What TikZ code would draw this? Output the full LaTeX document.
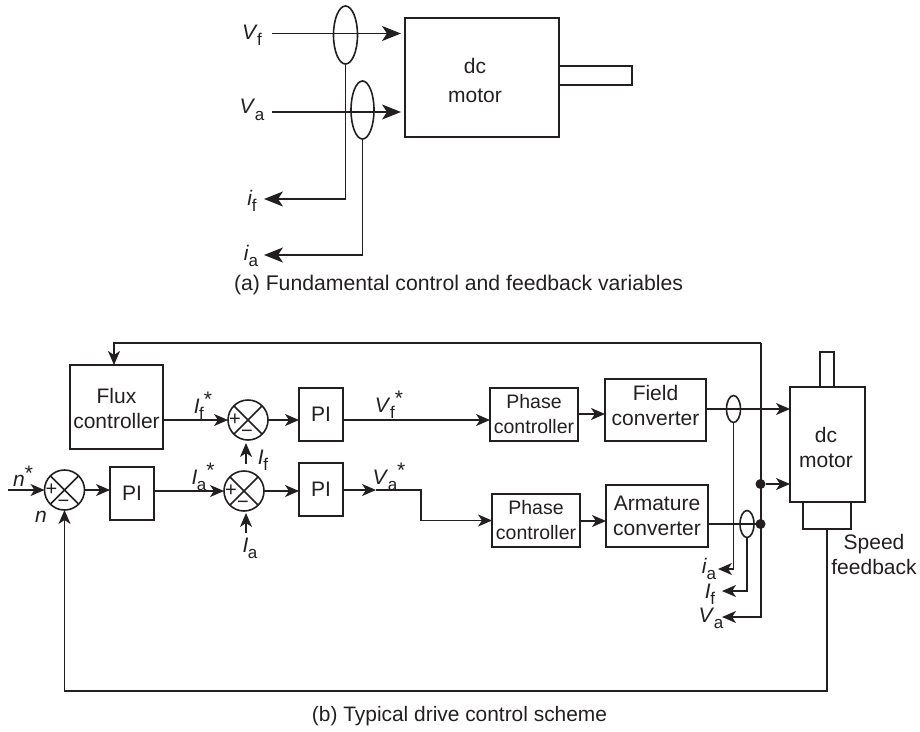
\documentclass[tikz,border=0pt]{standalone}
\usepackage{fontspec}
\setmainfont{Liberation Sans}
\usetikzlibrary{arrows.meta,shapes.geometric,calc}
\definecolor{ink}{HTML}{231F20}
\newcommand\lbl[2]{\textit{#1}\kern-0.5pt\raisebox{-0.3em}{\fontsize{17}{17}\selectfont #2}}
\newcommand\lbs[2]{\textit{#1}\kern-0.5pt\raisebox{-0.3em}{\fontsize{17}{17}\selectfont #2}\raisebox{0.3em}{*}}
\newcommand\pht[1]{{\fontsize{19.5}{23}\selectfont #1}}
\newcommand\blk[7][]{\node[blk,minimum width={(#5-#3)*1pt},minimum height={(#6-#4)*1pt},#1] (#2) at ({(#3+#5)/2},{(#4+#6)/2}) {#7};}
\newcommand\sumj[3]{\node[sumc] (#1) at (#2,#3) {};
  \draw[wire] (#1.45)--(#1.225) (#1.135)--(#1.315);
  \node[sgn] (#1p) at ($(#1.center)+(-13,0)$) {+};
  \node[sgn] (#1m) at ($(#1.center)+(-1,14)$) {−};}
\tikzset{
  x=1pt,y=-1pt,
  every node/.style={text=ink,font=\fontsize{21}{25}\selectfont,align=center},
  blk/.style={draw=ink,line width=1.6pt,inner sep=0pt,outer sep=0pt},
  wire/.style={draw=ink,line width=1.6pt},
  arr/.style={wire,-{Stealth[length=14pt,width=12pt,inset=4pt]}},
  arrb/.style={wire,-{Stealth[length=19pt,width=15pt,inset=5pt]}},
  sumc/.style={circle,draw=ink,line width=1.6pt,minimum size=40pt,inner sep=0pt,outer sep=0pt},
  sgn/.style={inner sep=0pt,font=\fontsize{20}{20}\selectfont},
  ell/.style={ellipse,draw=ink,line width=1.6pt,inner sep=0pt,outer sep=0pt},
  dot/.style={circle,fill=ink,minimum size=10pt,inner sep=0pt,outer sep=0pt},
  var/.style={inner sep=0pt},
  captxt/.style={inner sep=0pt,font=\fontsize{21.2}{24}\selectfont},
}
\begin{document}
\begin{tikzpicture}
\useasboundingbox (0,0) rectangle (920,731);
% ---------- (a)
\blk{ma}{405}{18}{559}{137}{}
\node[font=\fontsize{21}{29}\selectfont] (matxt) at (475,80) {dc\\motor};
\blk{sa}{559}{66}{632}{85}{}
\node[ell,minimum width=24pt,minimum height=58pt] (ef) at (345.5,35) {};
\node[ell,minimum width=23pt,minimum height=58pt] (ea) at (362.5,110) {};
\node[var] (lvf) at (252,35) {\lbl{V}{f}};
\node[var] (lva) at (252,110) {\lbl{V}{a}};
\node[var] (lif) at (252,201) {\lbl{i}{f}};
\node[var] (lia) at (251,256) {\lbl{i}{a}};
\coordinate (vfs) at (272,33.5);
\coordinate (vas) at (272,112);
\coordinate (vfe) at (401,33.5);
\coordinate (vae) at (401,112);
\coordinate (ife) at (264,199);
\coordinate (iae) at (264,255);
\draw[arrb] (vfs) -- (vfe);
\draw[arrb] (vas) -- (vae);
\draw[arrb] (ef.south) |- (ife);
\draw[arrb] (ea.south) |- (iae);
\node[captxt] (capa) at (458.5,285) {(a) Fundamental control and feedback variables};
% ---------- (b) blocks
\blk{flux}{70}{365}{163}{449}{\rule{0pt}{19pt}Flux\\controller}
\blk{pif}{299}{388}{343}{441}{PI}
\blk{pin}{110}{467}{154}{520}{PI}
\blk{pia}{299}{463}{343}{516}{PI}
\blk{ph1}{490}{388}{578}{441}{\pht{Phase}\\\pht{controller}}
\blk[text depth=10pt]{fc}{605}{379}{706}{441}{Field\\converter}
\blk{ph2}{492}{494}{580}{547}{\pht{Phase}\\\pht{controller}}
\blk{ac}{606}{485}{708}{547}{Armature\\converter}
\blk{mb}{790}{387}{865}{502}{}
\node (mbtxt) at (826,447) {dc\\motor};
\blk{shb}{820}{352}{834}{387}{}
\blk{tacho}{803}{502}{851}{529}{}
\sumj{sf}{248}{420}
\sumj{sa2}{244}{491}
\sumj{sn}{64.5}{490}
\node[ell,minimum width=14pt,minimum height=27pt] (e1) at (733.5,409) {};
\node[ell,minimum width=14pt,minimum height=27pt] (e2) at (747,524) {};
\node[dot] (j1) at (760.5,484) {};
\node[dot] (j2) at (760.5,524) {};
% ---------- (b) labels
\node[var] (lifs) at (203,406) {\lbs{I}{f}};
\node[var] (lias) at (203,477) {\lbs{I}{a}};
\node[var] (lvfs) at (389,405) {\lbs{V}{f}};
\node[var] (lvas) at (389,477) {\lbs{V}{a}};
\node[var] (lns) at (23,476) {\textit{n}\raisebox{0.3em}{*}};
\node[var] (ln) at (41,517) {\textit{n}};
\node[var] (lif2) at (263,460) {\lbl{I}{f}};
\node[var] (lia2) at (250,548) {\lbl{I}{a}};
\node[var] (lia3) at (709,569) {\lbl{i}{a}};
\node[var] (lif3) at (710,594) {\lbl{I}{f}};
\node[var] (lva3) at (711,618) {\lbl{V}{a}};
\node (spd) at (874,554) {Speed\\feedback};
% ---------- (b) free ends
\coordinate (ns) at (8,490);
\coordinate (topc) at (761,343);
\coordinate (fluxin) at (114,365);
\coordinate (fb) at (64.5,691);
\coordinate (ift) at (246,464);
\coordinate (iat) at (246,533);
\coordinate (ifb) at (246,443);
\coordinate (iab) at (246,513);
\coordinate (vamid) at (376,490);
\coordinate (vaturn) at (421,490);
\coordinate (iae3) at (718,569);
\coordinate (ife3) at (722,591);
\coordinate (vae3) at (722,617);
\coordinate (vcorner) at (761,617);
% ---------- (b) connectors
\draw[arr] (topc) -- (topc -| fluxin) -- (fluxin);
\draw[arr] (topc) -- (vcorner) -- (vae3);
\draw[arr] (flux.east |- sf.west) -- (sf.west);
\draw[arr] (sf.east) -- (sf.east -| pif.west);
\draw[arr] (pif.east |- sf.east) -- (ph1.west |- sf.east);
\draw[arr] ($(ph1.east |- fc.center)+(0,4)$) -- ($(fc.west |- fc.center)+(0,4)$);
\draw[arr] (ns) -- (sn.west);
\draw[arr] (sn.east) -- (sn.east -| pin.west);
\draw[arr] (pin.east |- sa2.west) -- (sa2.west);
\draw[arr] (sa2.east) -- (sa2.east -| pia.west);
\draw[arr] (pia.east |- vamid) -- (vamid);
\draw[wire] (vamid) -- (vaturn) -- (vaturn |- ph2.west);
\draw[arr] (vaturn |- ph2.west) -- (ph2.west);
\draw[arr] ($(ph2.east |- ac.center)+(0,5)$) -- ($(ac.west |- ac.center)+(0,5)$);
\draw[arr] (ift) -- (ifb);
\draw[arr] (iat) -- (iab);
\draw[arr] (fc.east |- e1.center) -- (mb.west |- e1.center);
\draw[wire] (ac.east |- j2) -- (j2);
\draw[arr] (j1) -- (mb.west |- j1);
\draw[arr] (e1.south) |- (iae3);
\draw[arr] (e2.south) |- (ife3);
\draw[arr] (tacho.south) |- (fb) -- (sn.south);
\node[captxt,font=\fontsize{20.9}{24}\selectfont] (capb) at (459.5,716) {(b) Typical drive control scheme};
\end{tikzpicture}
\end{document}
